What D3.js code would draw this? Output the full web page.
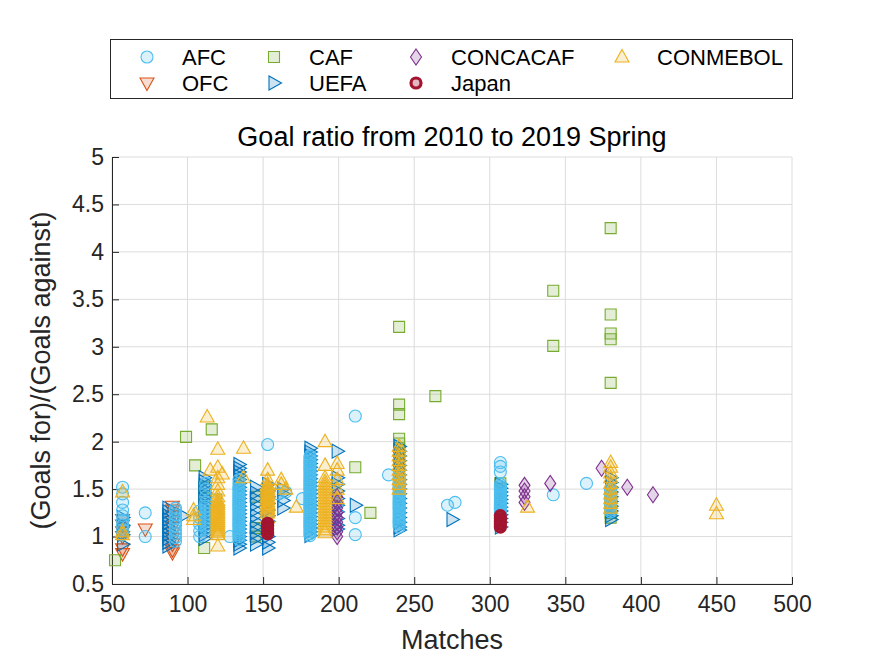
<!DOCTYPE html>
<html><head><meta charset="utf-8">
<script src="https://cdn.jsdelivr.net/npm/d3@7"></script>
<style>body{margin:0;background:#fff;}svg{display:block;font-family:"Liberation Sans",Arial,Helvetica,sans-serif;}</style>
</head><body>
<svg id="c" width="875" height="656"></svg>
<script>
// ---- data: each entry is [matches, [goal ratios of teams with that many matches]] ----
const afc = [
 [57,[1.52,1.45,1.36,1.28,1.22,1.17,1.12,1.07,1.02]],
 [72,[1.25,1.0]],
 [92,[1.3,1.27,1.23,1.19,1.15,1.11,1.07,1.03,0.99,0.95]],
 [108,[1.27,1.2,1.13,1.06,1.0]],
 [112,[1.56,1.5,1.42,1.36,1.32,1.28,1.24,1.2,1.16,1.12,1.08]],
 [128,[1.0]],
 [134,[1.6,1.56,1.52,1.5,1.48,1.46,1.44,1.42,1.4,1.38,1.36,1.34,1.32,1.3,1.28,1.26,1.24,1.22,1.2,1.18,1.16,1.14,1.12,1.1,1.08,1.06,1.04,1.02,1.0,0.97]],
 [153,[1.97]],[160,[1.45]],[165,[1.47]],[176,[1.4]],
 [181,[1.85,1.83,1.81,1.79,1.77,1.75,1.73,1.71,1.69,1.67,1.65,1.63,1.61,1.59,1.57,1.55,1.53,1.51,1.49,1.47,1.45,1.43,1.41,1.39,1.37,1.35,1.33,1.31,1.29,1.27,1.25,1.23,1.21,1.19,1.17,1.15,1.13,1.11,1.09,1.07,1.05,1.03,1.01]],
 [199,[1.35]],
 [211,[2.27,1.2,1.02]],
 [233,[1.65]],
 [240,[1.64,1.6,1.57,1.55,1.53,1.51,1.49,1.47,1.45,1.43,1.41,1.39,1.37,1.35,1.33,1.31,1.29,1.27,1.25,1.23,1.21,1.19,1.17,1.15,1.13,1.1]],
 [272,[1.33]],[277,[1.36]],
 [307,[1.78,1.74,1.68,1.55,1.53,1.51,1.49,1.47,1.45,1.43,1.41,1.39,1.37,1.35,1.33,1.31,1.29,1.27,1.25,1.23]],
 [342,[1.44]],[364,[1.56]],
 [380,[1.5,1.48,1.46,1.44,1.42,1.4,1.38,1.36,1.34,1.32,1.3,1.28,1.26]]
];
const ofc = [
 [57,[1.18,1.12,1.05,1.0,0.87,0.82]],
 [72,[1.08]],
 [90,[1.32,1.28,1.22,1.16,1.1,1.04,0.98,0.92,0.86,0.83]]
];
const caf = [
 [52,[0.75]],[99,[2.05]],[105,[1.75]],[111,[1.52,1.42,0.88]],[116,[2.13]],[119,[1.39]],
 [145,[1.42,1.09,1.0]],[211,[1.73]],[221,[1.25]],
 [240,[3.21,2.39,2.29,2.03,1.98,1.93,1.88,1.82,1.75,1.68,1.6,1.52,1.42]],
 [264,[2.48]],[307,[1.56,1.5]],[342,[3.59,3.01]],
 [380,[4.25,3.34,3.14,3.08,2.62,1.25,1.2]]
];
const uefa = [
 [57,[1.2,1.12,1.02,0.92]],
 [87,[1.3,1.26,1.22,1.18,1.14,1.1,1.06,1.02,0.98,0.94,0.9]],
 [97,[1.22]],
 [111,[1.62,1.58,1.54,1.5,1.46,1.42,1.38,1.34,1.3,1.26,1.22,1.18,1.14,1.1,1.06,1.02,0.98]],
 [134,[1.76,1.72,1.68,1.64,1.6,1.56,1.52,1.48,1.44,1.4,1.36,1.32,1.28,1.24,1.2,1.16,1.12,1.08,1.04,1.0,0.96,0.92,0.88]],
 [145,[1.52,1.46,1.4,1.34,1.28,1.22,1.16,1.1,1.04,0.98,0.92]],
 [153,[1.55,1.48,1.42,1.35,1.28,1.22,1.16,1.0,0.94,0.88]],
 [163,[1.5,1.45,1.38,1.3]],
 [181,[1.93,1.89,1.85,1.81,1.77,1.73,1.69,1.65,1.61,1.57,1.53,1.49,1.45,1.41,1.37,1.33,1.29,1.25,1.21,1.17,1.13,1.09,1.05,1.01]],
 [199,[1.9,1.62,1.55,1.48,1.4,1.33,1.26,1.19,1.12,1.08]],
 [211,[1.33]],
 [240,[1.95,1.9,1.85,1.8,1.75,1.7,1.65,1.6,1.55,1.5,1.45,1.4,1.35,1.3,1.25,1.2,1.15,1.1,1.07]],
 [275,[1.18]],
 [307,[1.55,1.51,1.47,1.43,1.39,1.35,1.31,1.27,1.23,1.19,1.15,1.1]],
 [380,[1.62,1.57,1.52,1.47,1.42,1.37,1.32,1.27,1.22,1.18]]
];
const concacaf = [
 [199,[1.42,1.36,1.3,1.25,1.2,1.15,1.1,1.05,1.0]],
 [323,[1.54,1.48,1.42,1.36]],
 [340,[1.56]],[374,[1.72]],[391,[1.52]],[408,[1.44]]
];
const conmebol = [
 [57,[1.47,1.05,1.02]],
 [104,[1.28,1.22,1.18]],
 [113,[2.26]],[115,[1.7]],[123,[1.66]],
 [120,[1.92,1.73,1.62,1.55,1.48,1.42,1.38,1.36,1.34,1.32,1.3,1.28,1.26,1.24,1.22,1.2,1.18,1.16,1.14,1.12,1.1,1.08,1.06,1.04,1.02,0.9]],
 [137,[1.93,1.62]],
 [153,[1.7,1.6,1.55,1.53,1.51,1.49,1.47,1.45,1.43,1.41,1.39,1.37,1.35,1.33,1.31,1.29,1.27,1.25,1.2]],
 [162,[1.6,1.55]],[165,[1.5]],[172,[1.31]],
 [191,[2.0,1.75,1.62,1.58,1.55,1.52,1.49,1.46,1.43,1.4,1.37,1.34,1.31,1.28,1.25,1.22,1.19,1.16,1.13,1.1,1.07,1.04]],
 [199,[1.77,1.7,1.6,1.5,1.4]],
 [240,[1.95,1.9,1.85,1.8,1.75,1.7,1.65,1.6,1.55,1.5]],
 [325,[1.31]],
 [380,[1.78,1.73,1.67,1.62,1.56,1.5,1.45,1.4,1.35,1.3]],
 [450,[1.33,1.24]]
];
const japan = [
 [153,[1.14,1.11,1.08,1.05,1.03]],
 [307,[1.22,1.19,1.16,1.13,1.1]]
];
const xTicks = [50,100,150,200,250,300,350,400,450,500];
const yTicks = [0.5,1,1.5,2,2.5,3,3.5,4,4.5,5];
const titleText = "Goal ratio from 2010 to 2019 Spring";
const xLabel = "Matches";
const yLabel = "(Goals for)/(Goals against)";

// ---- series styling ----
const series = [
 {name:"AFC", data:afc, sym:"circle", color:"#4DBEEE"},
 {name:"OFC", data:ofc, sym:"tdown", color:"#D95319"},
 {name:"CAF", data:caf, sym:"square", color:"#77AC30"},
 {name:"UEFA", data:uefa, sym:"tright", color:"#0072BD"},
 {name:"CONCACAF", data:concacaf, sym:"diamond", color:"#7E2F8E"},
 {name:"Japan", data:japan, sym:"japan", color:"#A2142F"},
 {name:"CONMEBOL", data:conmebol, sym:"tup", color:"#EDB120"}
];
const drawOrder = ["OFC","CAF","UEFA","AFC","CONCACAF","CONMEBOL","Japan"];

const L=112, R=792, T=157, B=584;
const svg = d3.select("#c");
const x = d3.scaleLinear().domain([50,500]).range([L,R]);
const y = d3.scaleLinear().domain([0.5,5]).range([B,T]);

function shapePath(sym){
  switch(sym){
    case "circle": return "M6,0A6,6,0,1,1,-6,0A6,6,0,1,1,6,0Z";
    case "japan": return "M5,0A5,5,0,1,1,-5,0A5,5,0,1,1,5,0Z";
    case "square": return "M-5.5,-5.5H5.5V5.5H-5.5Z";
    case "diamond": return "M0,-8L5.5,0L0,8L-5.5,0Z";
    case "tup": return "M0,-7.5L7,5L-7,5Z";
    case "tdown": return "M0,7.5L7,-5L-7,-5Z";
    case "tright": return "M7.5,0L-5,7L-5,-7Z";
  }
}
function styleMarker(sel, s){
  if(s.sym==="japan"){
    sel.attr("fill", s.color).attr("fill-opacity",0.3).attr("stroke", s.color).attr("stroke-width",3.2);
  } else {
    sel.attr("fill", s.color).attr("fill-opacity",0.2).attr("stroke", s.color).attr("stroke-width",1.1);
  }
}

// grid
const g = svg.append("g");
g.selectAll(".gx").data(xTicks).join("line")
 .attr("x1",d=>x(d)).attr("x2",d=>x(d)).attr("y1",T).attr("y2",B)
 .attr("stroke","#dcdcdc").attr("stroke-width",1);
g.selectAll(".gy").data(yTicks).join("line")
 .attr("y1",d=>y(d)).attr("y2",d=>y(d)).attr("x1",L).attr("x2",R)
 .attr("stroke","#dcdcdc").attr("stroke-width",1);

// axes
const xAxis = d3.axisBottom(x).tickValues(xTicks).tickSize(-7).tickPadding(12).tickFormat(d=>String(d));
const yAxis = d3.axisLeft(y).tickValues(yTicks).tickSize(-7).tickPadding(8).tickFormat(d=>String(d));
const gx = svg.append("g").attr("transform",`translate(0,${B})`).call(xAxis);
const gy = svg.append("g").attr("transform",`translate(${L},0)`).call(yAxis);
[gx,gy].forEach(a=>{
  a.select(".domain").attr("stroke","#262626").attr("stroke-width",1);
  a.selectAll(".tick line").attr("stroke","#262626");
  a.selectAll(".tick text").attr("fill","#262626").style("font-size","23px").style("font-family","'Liberation Sans',Arial,sans-serif");
});

// points
const pts = svg.append("g");
drawOrder.forEach(n=>{
  const s = series.find(v=>v.name===n);
  const flat = s.data.flatMap(([m, rs]) => rs.map(r => [m, r]));
  const sel = pts.append("g").selectAll("path").data(flat).join("path")
    .attr("d", shapePath(s.sym))
    .attr("transform", d=>`translate(${x(d[0])},${y(d[1])})`);
  styleMarker(sel, s);
});

// title & labels
svg.append("text").attr("x",(L+R)/2).attr("y",146).attr("text-anchor","middle")
 .style("font-size","27px").attr("fill","#000").text(titleText);
svg.append("text").attr("x",(L+R)/2).attr("y",649).attr("text-anchor","middle")
 .style("font-size","27px").attr("fill","#262626").text(xLabel);
svg.append("text").attr("transform",`translate(50,${(T+B)/2}) rotate(-90)`).attr("text-anchor","middle")
 .style("font-size","27px").attr("fill","#262626").text(yLabel);

// legend
const leg = svg.append("g");
leg.append("rect").attr("x",110.5).attr("y",39.5).attr("width",682).attr("height",59)
 .attr("fill","#fff").attr("stroke","#262626").attr("stroke-width",1);
const legPos = {
 AFC:[147,57], OFC:[147,83], CAF:[274,57], UEFA:[274,83],
 CONCACAF:[416,57], Japan:[416,83], CONMEBOL:[622,57]
};
series.forEach(s=>{
  const [px,py] = legPos[s.name];
  const m = leg.append("path").attr("d", shapePath(s.sym)).attr("transform",`translate(${px},${py})`);
  styleMarker(m, s);
  leg.append("text").attr("x",px+35).attr("y",py+8).style("font-size","22px").attr("fill","#000").text(s.name);
});
</script>
</body></html>
